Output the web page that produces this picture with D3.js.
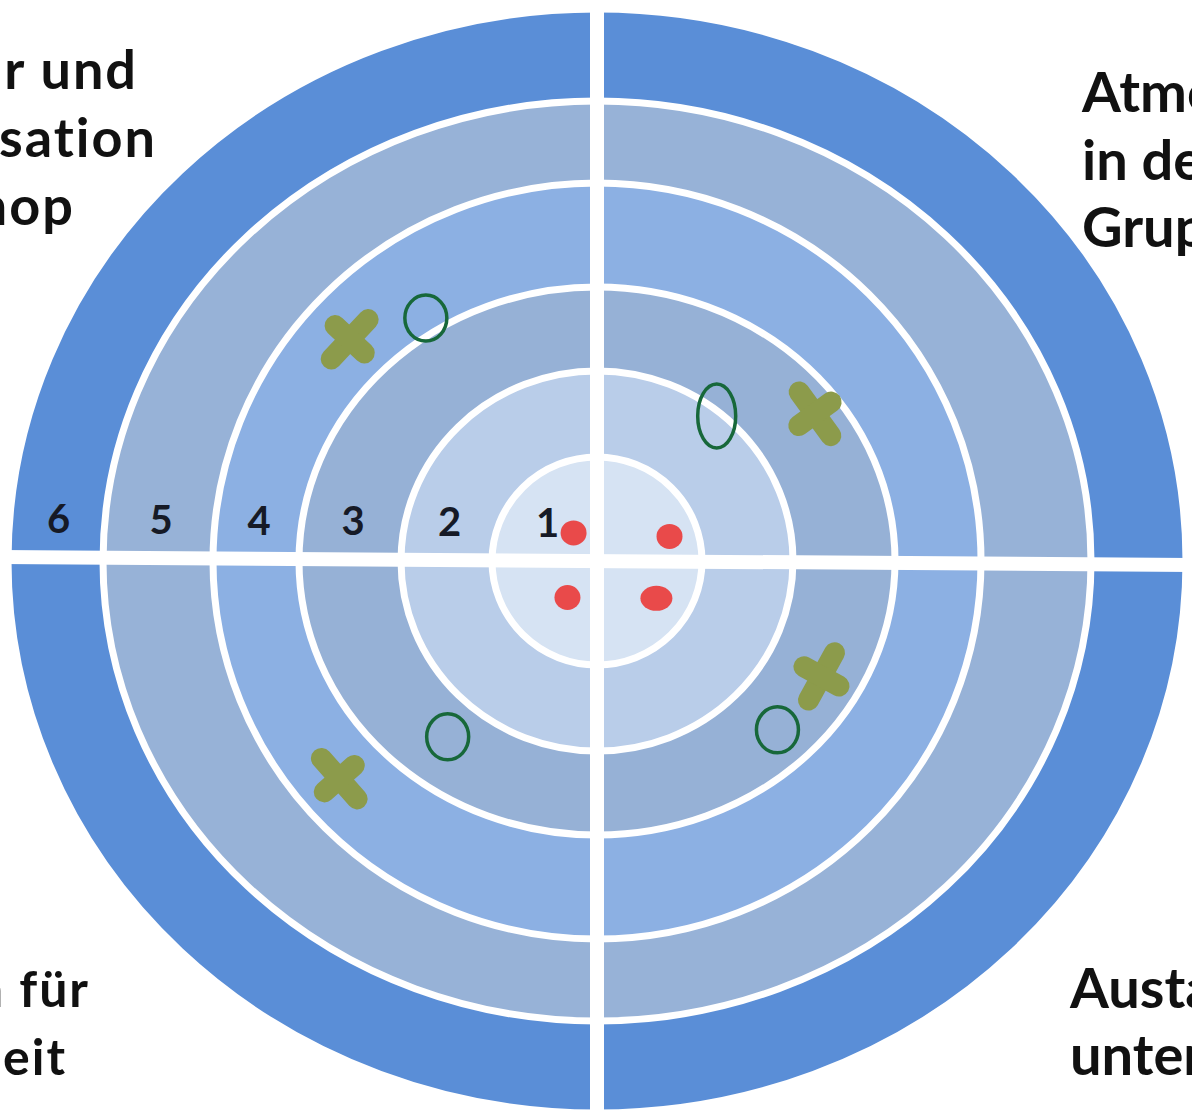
<!DOCTYPE html>
<html>
<head>
<meta charset="utf-8">
<script src="https://cdn.jsdelivr.net/npm/d3@7"></script>
<style>
  body { margin: 0; background: #fff; }
  svg { display: block; }
</style>
</head>
<body>
<div id="target"></div>
<script>
// rings of the target, 1 = centre
const rings = [1, 2, 3, 4, 5, 6];

// quadrants, clockwise from top left
const quadrants = ["TL", "TR", "BR", "BL"];
const labelTL = ["Struktur und", "Organisation", "Workshop"];
const labelTR = ["Atmosphäre", "in der", "Gruppe"];
const labelBR = ["Austausch", "untereinander"];
const labelBL = ["Raum für", "Zusammenarbeit"];

// ratings per quadrant (order TL, TR, BR, BL)
// value = ring position (0 = centre, 6 = outer edge), spread = place inside the quadrant (0..1 clockwise)
const dotValues = [0.35, 0.73, 0.67, 0.45];
const dotSpread = [0.56, 0.79, 0.36, 0.43];
const circleValues = [3.16, 1.95, 2.58, 2.42];
const circleSpread = [0.63, 0.43, 0.5, 0.43];
const crossValues = [3.48, 2.72, 2.59, 3.53];
const crossSpread = [0.48, 0.6, 0.32, 0.54];

(() => {
  const width = 1192;
  const height = 1120;
  const cx = 597;
  const cy = 561;

  const svg = d3
    .select("#target")
    .append("svg")
    .attr("width", width)
    .attr("height", height);

  // the photo is a bit squashed, so rings are ellipses
  const rx = d3
    .scaleLinear()
    .domain([0, 1, 2, 3, 4, 5, 6])
    .range([0, 105, 196, 298, 384, 494, 589]);
  const ry = d3
    .scaleLinear()
    .domain([0, 1, 2, 3, 4, 5, 6])
    .range([0, 104, 190, 274, 378, 460, 552]);

  const ringColor = d3
    .scaleOrdinal()
    .domain(rings)
    .range(["#d6e3f3", "#b9cde9", "#96b1d6", "#8cb0e3", "#97b2d7", "#5a8ed7"]);

  const quadStart = d3.scaleOrdinal().domain(quadrants).range([180, 270, 0, 90]);
  const angle = d3.scaleLinear().domain([0, 1]).range([0, 90]);

  // horizontal gap is slightly tilted in the picture
  const gapY = d3.scaleLinear().domain([0, width]).range([557, 565]);

  // Rings
  svg
    .append("g")
    .selectAll("ellipse")
    .data(rings.slice().reverse())
    .join("ellipse")
    .attr("cx", cx)
    .attr("cy", cy)
    .attr("rx", (d) => rx(d))
    .attr("ry", (d) => ry(d))
    .attr("fill", (d) => ringColor(d))
    .attr("stroke", "#fff")
    .attr("stroke-width", 7);

  // Cross gaps
  svg
    .append("line")
    .attr("x1", cx)
    .attr("x2", cx)
    .attr("y1", 0)
    .attr("y2", height)
    .attr("stroke", "#fff")
    .attr("stroke-width", 14);
  svg
    .append("line")
    .attr("x1", 0)
    .attr("x2", width)
    .attr("y1", gapY(0))
    .attr("y2", gapY(width))
    .attr("stroke", "#fff")
    .attr("stroke-width", 14);

  // Ring numbers on the left axis
  svg
    .append("g")
    .selectAll("text")
    .data(rings)
    .join("text")
    .attr("x", (d) => cx + 3 - (rx(d - 1) + rx(d)) / 2)
    .attr("y", (d) => gapY(cx - (rx(d - 1) + rx(d)) / 2) - 24)
    .attr("text-anchor", "middle")
    .attr("font-family", "Lato, sans-serif")
    .attr("font-size", "40px")
    .attr("font-weight", 700)
    .attr("fill", "#161a26")
    .text((d) => d);

  // position helper
  const pos = (q, v, s) => {
    const a = ((quadStart(q) + angle(s)) * Math.PI) / 180;
    return [cx + rx(v) * Math.cos(a), cy + ry(v) * Math.sin(a), a];
  };

  // Red dots
  svg
    .append("g")
    .selectAll("ellipse")
    .data(quadrants)
    .join("ellipse")
    .attr("cx", (d, i) => pos(d, dotValues[i], dotSpread[i])[0])
    .attr("cy", (d, i) => pos(d, dotValues[i], dotSpread[i])[1])
    .attr("rx", (d) => (d === "BR" ? 16 : 13))
    .attr("ry", 12.5)
    .attr("fill", "#e94a4a");

  // Green circles
  svg
    .append("g")
    .selectAll("ellipse")
    .data(quadrants)
    .join("ellipse")
    .attr("cx", (d, i) => pos(d, circleValues[i], circleSpread[i])[0])
    .attr("cy", (d, i) => pos(d, circleValues[i], circleSpread[i])[1])
    .attr("rx", (d) => (d === "TR" ? 19 : 21))
    .attr("ry", (d) => (d === "TR" ? 32 : 23))
    .attr("fill", "none")
    .attr("stroke", "#17683a")
    .attr("stroke-width", 3.5);

  // Olive crosses
  const crosses = svg
    .append("g")
    .selectAll("g")
    .data(quadrants)
    .join("g")
    .attr("transform", (d, i) => {
      const p = pos(d, crossValues[i], crossSpread[i]);
      return `translate(${p[0]}, ${p[1]}) rotate(${(p[2] * 180) / Math.PI + 90})`;
    })
    .attr("stroke", "#8c9b4b")
    .attr("stroke-width", 21)
    .attr("stroke-linecap", "round");
  crosses.append("line").attr("x1", -27).attr("x2", 27).attr("y1", 0).attr("y2", 0);
  crosses.append("line").attr("x1", 0).attr("x2", 0).attr("y1", -20).attr("y2", 20);

  // Quadrant labels (cut by the picture edges, as in the photo)
  const labelFont = (sel, size, spacing) =>
    sel
      .attr("font-family", "Lato, sans-serif")
      .attr("font-size", size)
      .attr("font-weight", 700)
      .attr("letter-spacing", spacing)
      .attr("fill", "#111");

  const tlX = [138, 157, 75];
  const tlY = [89, 157, 225];
  labelFont(
    svg
      .append("g")
      .selectAll("text")
      .data(labelTL)
      .join("text")
      .attr("x", (d, i) => tlX[i])
      .attr("y", (d, i) => tlY[i])
      .attr("text-anchor", "end")
      .text((d) => d),
    "54px",
    "2px"
  );

  const trY = [112, 180, 247];
  labelFont(
    svg
      .append("g")
      .selectAll("text")
      .data(labelTR)
      .join("text")
      .attr("x", 1082)
      .attr("y", (d, i) => trY[i])
      .text((d) => d),
    "56px",
    "0px"
  );

  const brY = [1008, 1075];
  labelFont(
    svg
      .append("g")
      .selectAll("text")
      .data(labelBR)
      .join("text")
      .attr("x", 1070)
      .attr("y", (d, i) => brY[i])
      .text((d) => d),
    "56px",
    "0px"
  );

  const blX = [90, 67];
  const blY = [1007, 1075];
  labelFont(
    svg
      .append("g")
      .selectAll("text")
      .data(labelBL)
      .join("text")
      .attr("x", (d, i) => blX[i])
      .attr("y", (d, i) => blY[i])
      .attr("text-anchor", "end")
      .text((d) => d),
    "50px",
    "2px"
  );
})();
</script>
</body>
</html>
